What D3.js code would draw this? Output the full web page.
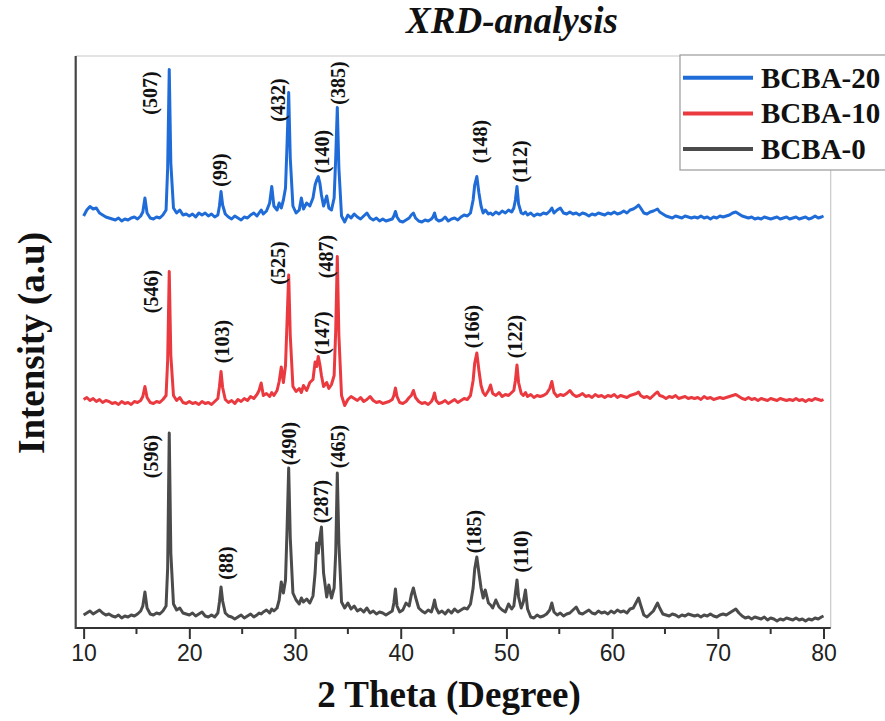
<!DOCTYPE html>
<html>
<head>
<meta charset="utf-8">
<script src="https://cdn.jsdelivr.net/npm/d3@7"></script>
<style>
body{margin:0;background:#fff;}
</style>
</head>
<body>
<div class="xrd-chart"></div>
<script>
// 2 theta positions (shared by all three patterns)
var theta = [
  10.0, 10.3, 10.6, 10.9, 11.2, 11.5, 11.8, 12.1, 12.4, 12.7,
  13.0, 13.3, 13.6, 13.9, 14.2, 14.5, 14.8, 15.1, 15.4, 15.6,
  15.8, 16.0, 16.3, 16.6, 16.9, 17.2, 17.5, 17.8, 17.95, 18.1,
  18.25, 18.5, 18.8, 19.1, 19.4, 19.7, 20.0, 20.3, 20.6, 20.9,
  21.2, 21.5, 21.8, 22.1, 22.4, 22.7, 22.85, 23.0, 23.15, 23.4,
  23.7, 24.0, 24.3, 24.6, 24.9, 25.2, 25.5, 25.8, 26.1, 26.4,
  26.6, 26.8, 27.0, 27.3, 27.6, 27.8, 28.0, 28.3, 28.5, 28.7,
  28.9, 29.1, 29.25, 29.4, 29.55, 29.8, 30.1, 30.4, 30.6, 30.8,
  31.1, 31.4, 31.7, 31.9, 32.05, 32.2, 32.35, 32.5, 32.7, 33.0,
  33.2, 33.45, 33.7, 33.85, 34.0, 34.15, 34.4, 34.7, 35.0, 35.3,
  35.6, 35.9, 36.2, 36.5, 36.8, 37.1, 37.4, 37.7, 38.0, 38.3,
  38.6, 38.9, 39.2, 39.35, 39.5, 39.65, 39.9, 40.2, 40.5, 40.8,
  41.0, 41.2, 41.4, 41.7, 42.0, 42.3, 42.6, 42.9, 43.05, 43.2,
  43.35, 43.6, 43.9, 44.2, 44.5, 44.8, 45.1, 45.4, 45.7, 46.0,
  46.3, 46.6, 46.85, 47.0, 47.2, 47.4, 47.6, 47.8, 48.0, 48.3,
  48.5, 48.7, 49.0, 49.3, 49.6, 49.9, 50.2, 50.5, 50.7, 50.85,
  51.0, 51.15, 51.4, 51.6, 51.8, 52.0, 52.3, 52.6, 52.9, 53.2,
  53.5, 53.8, 54.1, 54.3, 54.5, 54.8, 55.1, 55.4, 55.7, 56.0,
  56.3, 56.6, 56.9, 57.2, 57.5, 57.8, 58.1, 58.4, 58.7, 59.0,
  59.3, 59.6, 59.9, 60.2, 60.5, 60.8, 61.1, 61.4, 61.7, 62.0,
  62.3, 62.5, 62.7, 63.0, 63.3, 63.6, 63.9, 64.1, 64.3, 64.5,
  64.8, 65.1, 65.4, 65.7, 66.0, 66.3, 66.6, 66.9, 67.2, 67.5,
  67.8, 68.1, 68.4, 68.7, 69.0, 69.3, 69.6, 69.9, 70.2, 70.5,
  70.8, 71.1, 71.4, 71.7, 72.0, 72.3, 72.6, 72.9, 73.2, 73.5,
  73.8, 74.1, 74.4, 74.7, 75.0, 75.3, 75.6, 75.9, 76.2, 76.5,
  76.8, 77.1, 77.4, 77.7, 78.0, 78.3, 78.6, 78.9, 79.2, 79.5,
  79.8, 80.0
];

// intensity (a.u)
var bcba0 = [
  26, 30, 34, 28, 32, 36, 30, 26, 28, 24,
  22, 26, 20, 24, 22, 26, 24, 28, 34, 44,
  72, 40, 28, 26, 30, 28, 34, 44, 120, 390,
  150, 48, 36, 40, 30, 28, 26, 30, 24, 28,
  32, 24, 22, 26, 22, 30, 52, 82, 54, 30,
  24, 22, 18, 22, 26, 20, 24, 28, 22, 26,
  30, 28, 32, 36, 30, 38, 34, 40, 56, 92,
  70, 96, 200, 320, 180, 70, 56, 48, 60, 52,
  58, 50, 64, 110, 170, 150, 180, 202, 110, 62,
  86, 60, 80, 150, 310, 170, 52, 40, 50, 38,
  44, 34, 38, 32, 40, 30, 34, 28, 32, 30,
  26, 30, 34, 50, 78, 44, 32, 36, 50, 44,
  66, 80, 62, 40, 34, 30, 36, 32, 42, 56,
  40, 30, 34, 28, 36, 30, 38, 32, 36, 40,
  38, 48, 80, 118, 142, 110, 80, 60, 76, 50,
  46, 40, 56, 42, 36, 32, 48, 38, 44, 70,
  96, 62, 40, 52, 76, 38, 22, 20, 26, 22,
  24, 28, 36, 50, 32, 26, 30, 24, 28, 30,
  36, 42, 30, 28, 32, 36, 30, 28, 34, 30,
  32, 28, 34, 30, 36, 32, 34, 30, 38, 40,
  52, 60, 46, 26, 22, 28, 34, 42, 50, 40,
  28, 26, 24, 28, 26, 22, 26, 24, 28, 26,
  24, 26, 22, 26, 24, 28, 24, 22, 26, 28,
  26, 30, 34, 38, 30, 24, 20, 22, 18, 22,
  20, 18, 22, 16, 20, 18, 14, 18, 16, 20,
  18, 16, 20, 16, 18, 14, 18, 16, 20, 18,
  22, 24
];

var bcba10 = [
  22, 26, 20, 24, 18, 22, 16, 20, 18, 14,
  16, 12, 18, 14, 16, 12, 18, 16, 20, 28,
  48, 26, 16, 14, 18, 16, 22, 30, 100, 278,
  110, 30, 20, 26, 16, 14, 18, 14, 16, 12,
  18, 14, 16, 12, 18, 24, 48, 78, 46, 22,
  16, 20, 14, 22, 18, 24, 20, 28, 24, 32,
  40, 55, 30, 34, 28, 36, 30, 40, 58, 87,
  56, 90, 180, 271, 150, 48, 38, 44, 36, 50,
  40, 56, 62, 97, 88, 108, 92, 70, 48, 56,
  44, 52, 70, 160, 308, 150, 30, 10, 22, 28,
  24, 20, 26, 18, 22, 28, 20, 16, 18, 14,
  16, 18, 22, 30, 45, 28, 16, 14, 18, 26,
  30, 40, 26, 18, 14, 16, 12, 18, 24, 35,
  20, 14, 16, 20, 14, 18, 22, 16, 20, 24,
  22, 30, 60, 95, 115, 80, 50, 36, 30, 40,
  51, 34, 30, 36, 28, 32, 30, 36, 40, 60,
  91, 56, 34, 30, 36, 28, 32, 26, 30, 28,
  30, 34, 44, 58, 36, 28, 32, 30, 34, 40,
  32, 28, 30, 34, 28, 30, 26, 32, 28, 30,
  26, 30, 28, 32, 26, 30, 28, 26, 30, 32,
  34, 37, 30, 26, 28, 24, 30, 34, 37, 30,
  28, 24, 28, 26, 30, 24, 26, 28, 24, 26,
  24, 26, 22, 28, 24, 26, 22, 24, 26, 24,
  26, 28, 30, 32, 28, 24, 22, 26, 22, 24,
  20, 24, 22, 20, 24, 22, 20, 24, 22, 20,
  22, 20, 24, 20, 22, 18, 22, 20, 24, 22,
  20, 22
];

var bcba20 = [
  24, 36, 43, 38, 40, 30, 26, 22, 20, 18,
  16, 20, 14, 18, 16, 20, 22, 18, 24, 32,
  60, 30, 20, 18, 22, 20, 26, 36, 120, 317,
  130, 40, 30, 36, 26, 28, 24, 28, 22, 30,
  26, 30, 24, 28, 22, 26, 44, 73, 46, 28,
  22, 18, 24, 20, 16, 22, 20, 26, 30, 24,
  30, 36, 28, 34, 50, 83, 44, 36, 50, 40,
  56, 80, 170, 271, 140, 44, 30, 36, 60, 38,
  50, 44, 60, 86, 96, 103, 90, 66, 44, 64,
  40, 36, 60, 140, 241, 120, 24, 12, 26, 20,
  28, 22, 18, 24, 30, 20, 16, 20, 14, 18,
  14, 16, 18, 24, 33, 22, 14, 12, 16, 20,
  26, 30, 20, 14, 12, 16, 14, 18, 22, 30,
  18, 14, 16, 22, 14, 18, 20, 16, 22, 26,
  24, 30, 56, 86, 103, 70, 44, 30, 36, 28,
  30, 26, 32, 28, 34, 30, 36, 32, 40, 56,
  83, 48, 30, 28, 32, 26, 30, 24, 28, 26,
  30, 28, 34, 40, 30, 36, 40, 30, 28, 32,
  28, 30, 26, 30, 28, 24, 28, 26, 30, 28,
  26, 30, 28, 32, 28, 30, 34, 30, 36, 38,
  42, 46, 40, 30, 28, 32, 34, 36, 38, 32,
  28, 24, 22, 20, 24, 22, 20, 24, 22, 20,
  22, 20, 24, 20, 22, 18, 22, 20, 24, 22,
  24, 26, 30, 32, 28, 24, 22, 20, 22, 18,
  20, 18, 22, 20, 18, 20, 22, 18, 20, 22,
  18, 20, 22, 18, 20, 22, 18, 20, 24, 20,
  22, 24
];

// vertical stacking of the patterns
var seriesNames = ["BCBA-20", "BCBA-10", "BCBA-0"];
var seriesColors = ["#1f6cd9", "#ea3a40", "#4b4b4b"];
var seriesOffsets = [800, 435, 0];

var xTicks = [10, 20, 30, 40, 50, 60, 70, 80];
var xMinorTicks = [15, 25, 35, 45, 55, 65, 75];

// peak labels: text, 2 theta, label height (a.u, offset included)
var peakText20 = ["(507)", "(99)", "(432)", "(140)", "(385)", "(148)", "(112)"];
var peakTheta20 = [16.28, 22.9, 28.39, 32.52, 34.07, 47.5, 51.28];
var peakLevel20 = [1070, 916, 1056, 953, 1090, 973, 933];

var peakText10 = ["(546)", "(103)", "(525)", "(147)", "(487)", "(166)", "(122)"];
var peakTheta10 = [16.35, 23.12, 28.39, 32.52, 32.93, 46.71, 50.81];
var peakLevel10 = [673, 573, 730, 590, 743, 603, 583];

var peakText0 = ["(596)", "(88)", "(490)", "(287)", "(465)", "(185)", "(110)"];
var peakTheta0 = [16.35, 23.44, 29.46, 32.43, 34.09, 46.93, 51.35];
var peakLevel0 = [343, 130, 369, 253, 363, 193, 153];

drawChart();

function drawChart(){
    var w = 885;
    var h = 721;
    var left = 75.7, right = 830.7, top = 56, bottom = 628;
    var serif = "'Liberation Serif','Times New Roman',serif";
    var sans = "'Liberation Sans',Arial,sans-serif";

    var svg = d3.select(".xrd-chart")
      .append("svg")
      .attr("width", w)
      .attr("height", h);

    var x = d3.scaleLinear().domain([9.25, 80.68]).range([left, right]);
    var y = d3.scaleLinear().domain([0, 1144]).range([bottom, top]);

    //frame (top + right in light grey)
    svg.append("path")
      .attr("d", "M" + left + "," + top + "H" + right + "V" + bottom)
      .attr("fill", "none")
      .attr("stroke", "#c8c8c8")
      .attr("stroke-width", 1.2);

    //patterns
    var patterns = [bcba20, bcba10, bcba0];
    var line = d3.line()
      .x(function(d){ return x(d[0]); })
      .y(function(d){ return y(d[1]); });

    patterns.forEach(function(vals, k){
        var pts = theta.map(function(t, i){ return [t, vals[i] + seriesOffsets[k]]; });
        svg.append("path")
          .datum(pts)
          .attr("d", line)
          .attr("fill", "none")
          .attr("stroke", seriesColors[k])
          .attr("stroke-width", 3)
          .attr("stroke-linejoin", "round");
    });

    //peak labels
    var peakSets = [
      [peakText20, peakTheta20, peakLevel20],
      [peakText10, peakTheta10, peakLevel10],
      [peakText0, peakTheta0, peakLevel0]
    ];
    peakSets.forEach(function(set){
        set[0].forEach(function(txt, i){
            svg.append("text")
              .attr("transform", "translate(" + x(set[1][i]) + "," + y(set[2][i]) + ") rotate(-90)")
              .attr("text-anchor", "middle")
              .attr("dominant-baseline", "central")
              .attr("font-family", serif)
              .attr("font-weight", "bold")
              .attr("font-size", "20px")
              .attr("fill", "#111")
              .text(txt);
        });
    });

    //x axis
    var xAxis = d3.axisBottom(x).tickValues(xTicks).tickSize(11).tickPadding(6)
      .tickFormat(d3.format("d"));
    var gx = svg.append("g")
      .attr("transform", "translate(0," + bottom + ")")
      .call(xAxis);
    gx.select(".domain").attr("d", "M" + left + ",0H" + right)
      .attr("stroke", "#333").attr("stroke-width", 2.2);
    gx.selectAll(".tick line").attr("stroke", "#333").attr("stroke-width", 2);
    gx.selectAll(".tick text")
      .attr("font-family", sans)
      .attr("font-size", "23px")
      .attr("fill", "#222");

    svg.append("g")
      .selectAll("line")
      .data(xMinorTicks)
      .enter()
      .append("line")
      .attr("x1", function(d){ return x(d); })
      .attr("x2", function(d){ return x(d); })
      .attr("y1", bottom)
      .attr("y2", bottom + 6)
      .attr("stroke", "#333")
      .attr("stroke-width", 2);

    //y axis line (no ticks)
    svg.append("line")
      .attr("x1", left).attr("x2", left)
      .attr("y1", top).attr("y2", bottom + 1)
      .attr("stroke", "#444")
      .attr("stroke-width", 2.2);

    //titles
    svg.append("text")
      .attr("x", 512).attr("y", 33)
      .attr("text-anchor", "middle")
      .attr("font-family", serif)
      .attr("font-weight", "bold")
      .attr("font-style", "italic")
      .attr("font-size", "37px")
      .attr("fill", "#111")
      .text("XRD-analysis");

    svg.append("text")
      .attr("x", 449).attr("y", 707)
      .attr("text-anchor", "middle")
      .attr("font-family", serif)
      .attr("font-weight", "bold")
      .attr("font-size", "37px")
      .attr("fill", "#111")
      .text("2 Theta (Degree)");

    svg.append("text")
      .attr("transform", "translate(44,343) rotate(-90)")
      .attr("text-anchor", "middle")
      .attr("font-family", serif)
      .attr("font-weight", "bold")
      .attr("font-size", "37px")
      .attr("fill", "#111")
      .text("Intensity (a.u)");

    //legend
    var lg = svg.append("g");
    lg.append("rect")
      .attr("x", 680).attr("y", 55)
      .attr("width", 230).attr("height", 115)
      .attr("fill", "#fff")
      .attr("stroke", "#999")
      .attr("stroke-width", 1.2);
    seriesNames.forEach(function(name, k){
        var ly = 77.7 + k * 35.7;
        lg.append("line")
          .attr("x1", 683).attr("x2", 753)
          .attr("y1", ly).attr("y2", ly)
          .attr("stroke", seriesColors[k])
          .attr("stroke-width", 4);
        lg.append("text")
          .attr("x", 761).attr("y", ly + 10)
          .attr("font-family", serif)
          .attr("font-weight", "bold")
          .attr("font-size", "29px")
          .attr("fill", "#111")
          .text(name);
    });
}
</script>
</body>
</html>
